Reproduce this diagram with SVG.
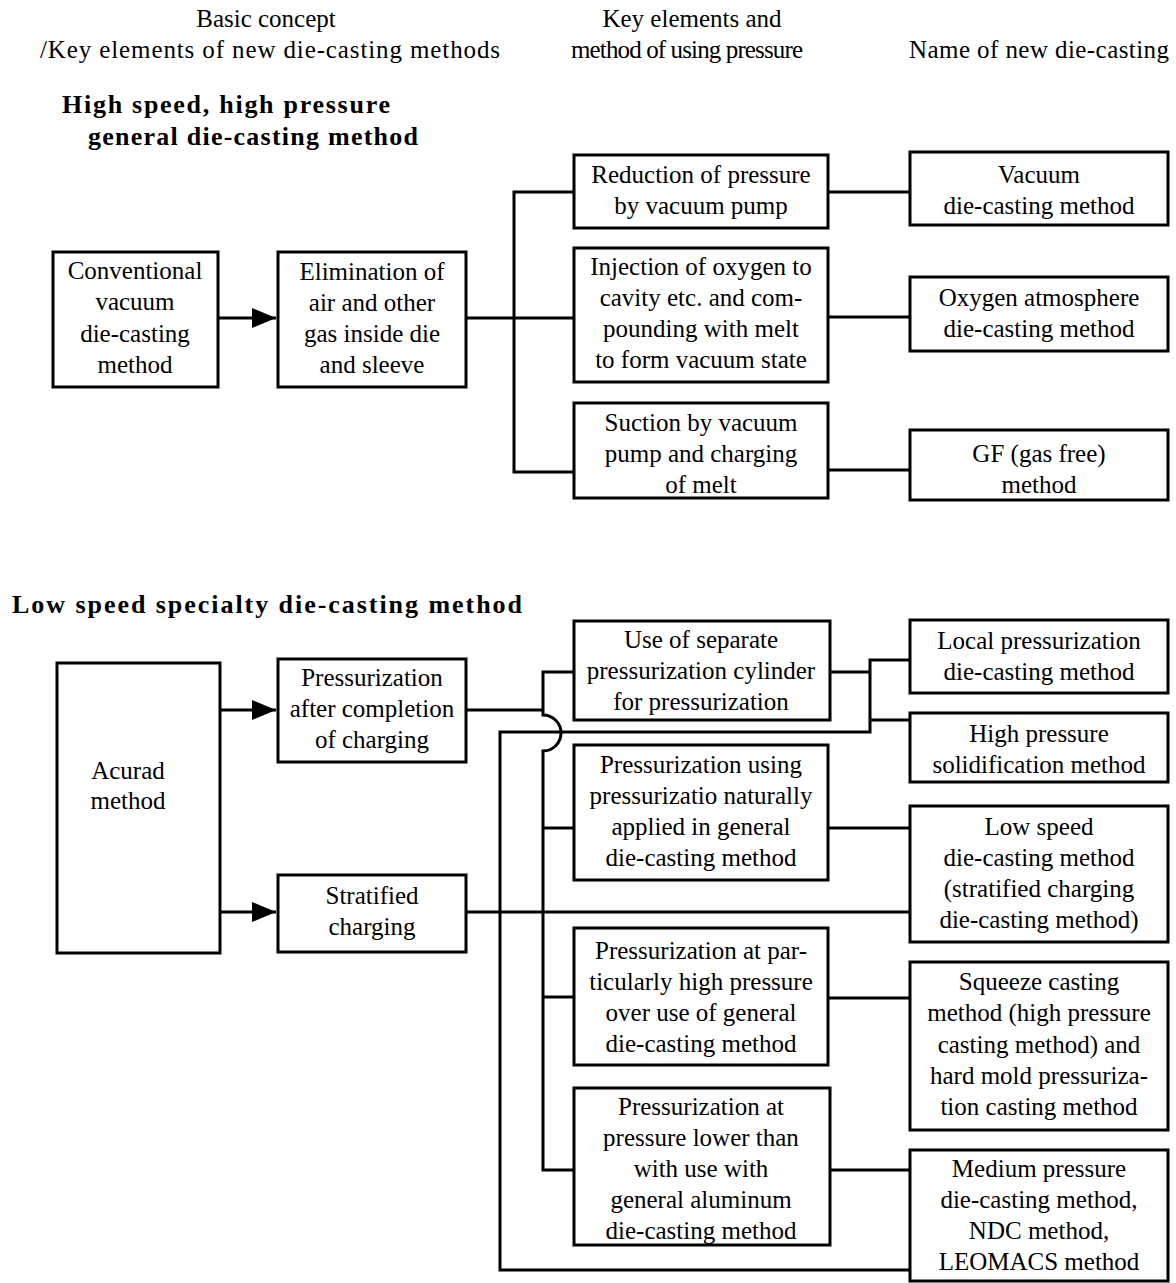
<svg xmlns="http://www.w3.org/2000/svg" width="1176" height="1283" viewBox="0 0 1176 1283">
<style>
.bx{fill:#fff;stroke:#000;stroke-width:3}
.t{font-family:"Liberation Serif","Times New Roman",serif;font-size:25px;fill:#000;text-anchor:middle}
.h{font-family:"Liberation Serif","Times New Roman",serif;font-size:26px;font-weight:bold;fill:#000}
.w{fill:none;stroke:#000;stroke-width:3}
</style>
<defs>
<marker id="ar" markerWidth="26" markerHeight="22" refX="24" refY="11" orient="auto" markerUnits="userSpaceOnUse">
<path d="M0,1 L24,11 L0,21 Z" fill="#000"/>
</marker>
</defs>
<rect width="1176" height="1283" fill="#fff"/>

<g id="headers">
<text class="t" x="266" y="27">Basic concept</text>
<text class="t" x="270" y="58" textLength="460" lengthAdjust="spacing">/Key elements of new die-casting methods</text>
<text class="t" x="692" y="27">Key elements and</text>
<text class="t" x="687" y="58" textLength="232" lengthAdjust="spacing">method of using pressure</text>
<text class="t" x="1039" y="58" textLength="260" lengthAdjust="spacing">Name of new die-casting</text>
<text class="h" x="62" y="113" textLength="328" lengthAdjust="spacing">High speed, high pressure</text>
<text class="h" x="88" y="145" textLength="330" lengthAdjust="spacing">general die-casting method</text>
<text class="h" x="12" y="613" textLength="510" lengthAdjust="spacing">Low speed specialty die-casting method</text>
</g>

<g id="connectors">
<path class="w" d="M218,318 H276" marker-end="url(#ar)"/>
<path class="w" d="M466,318 H574"/>
<path class="w" d="M574,192 H514 V472 H574"/>
<path class="w" d="M828,192 H910"/>
<path class="w" d="M828,317 H910"/>
<path class="w" d="M828,470 H910"/>
<path class="w" d="M220,710 H276" marker-end="url(#ar)"/>
<path class="w" d="M220,912 H276" marker-end="url(#ar)"/>
<path class="w" d="M466,710 H543"/>
<path class="w" d="M574,672 H543 V715 A18,18 0 0 1 543,751 V1170 H574"/>
<path class="w" d="M543,828 H574"/>
<path class="w" d="M543,997 H574"/>
<path class="w" d="M466,912 H910"/>
<path class="w" d="M828,672 H870"/>
<path class="w" d="M910,660 H870 V732 H500 V1270 H910"/>
<path class="w" d="M870,720 H910"/>
<path class="w" d="M828,828 H910"/>
<path class="w" d="M828,998 H910"/>
<path class="w" d="M828,1170 H910"/>
</g>

<g id="n-conventional">
<rect class="bx" x="53" y="252" width="165" height="135"/>
<text class="t" x="135" y="279">Conventional</text>
<text class="t" x="135" y="310">vacuum</text>
<text class="t" x="135" y="342">die-casting</text>
<text class="t" x="135" y="373">method</text>
</g>
<g id="n-elimination">
<rect class="bx" x="278" y="252" width="188" height="135"/>
<text class="t" x="372" y="280">Elimination of</text>
<text class="t" x="372" y="311">air and other</text>
<text class="t" x="372" y="342">gas inside die</text>
<text class="t" x="372" y="373">and sleeve</text>
</g>
<g id="n-reduction">
<rect class="bx" x="574" y="155" width="254" height="73"/>
<text class="t" x="701" y="183">Reduction of pressure</text>
<text class="t" x="701" y="214">by vacuum pump</text>
</g>
<g id="n-injection">
<rect class="bx" x="574" y="248" width="254" height="134"/>
<text class="t" x="701" y="275">Injection of oxygen to</text>
<text class="t" x="701" y="306">cavity etc. and com-</text>
<text class="t" x="701" y="337">pounding with melt</text>
<text class="t" x="701" y="368">to form vacuum state</text>
</g>
<g id="n-suction">
<rect class="bx" x="574" y="403" width="254" height="95"/>
<text class="t" x="701" y="431">Suction by vacuum</text>
<text class="t" x="701" y="462">pump and charging</text>
<text class="t" x="701" y="493">of melt</text>
</g>
<g id="n-vacuum">
<rect class="bx" x="910" y="152" width="258" height="73"/>
<text class="t" x="1039" y="183">Vacuum</text>
<text class="t" x="1039" y="214">die-casting method</text>
</g>
<g id="n-oxygen">
<rect class="bx" x="910" y="277" width="258" height="74"/>
<text class="t" x="1039" y="306">Oxygen atmosphere</text>
<text class="t" x="1039" y="337">die-casting method</text>
</g>
<g id="n-gf">
<rect class="bx" x="910" y="430" width="258" height="70"/>
<text class="t" x="1039" y="462">GF (gas free)</text>
<text class="t" x="1039" y="493">method</text>
</g>

<g id="n-acurad">
<rect class="bx" x="57" y="663" width="163" height="290"/>
<text class="t" x="128" y="779">Acurad</text>
<text class="t" x="128" y="809">method</text>
</g>
<g id="n-after">
<rect class="bx" x="278" y="659" width="188" height="103"/>
<text class="t" x="372" y="686">Pressurization</text>
<text class="t" x="372" y="717">after completion</text>
<text class="t" x="372" y="748">of charging</text>
</g>
<g id="n-stratified">
<rect class="bx" x="278" y="875" width="188" height="77"/>
<text class="t" x="372" y="904">Stratified</text>
<text class="t" x="372" y="935">charging</text>
</g>
<g id="n-separate">
<rect class="bx" x="574" y="621" width="256" height="99"/>
<text class="t" x="701" y="648">Use of separate</text>
<text class="t" x="701" y="679">pressurization cylinder</text>
<text class="t" x="701" y="710">for pressurization</text>
</g>
<g id="n-using">
<rect class="bx" x="574" y="745" width="254" height="135"/>
<text class="t" x="701" y="773">Pressurization using</text>
<text class="t" x="701" y="804">pressurizatio naturally</text>
<text class="t" x="701" y="835">applied in general</text>
<text class="t" x="701" y="866">die-casting method</text>
</g>
<g id="n-particularly">
<rect class="bx" x="574" y="928" width="254" height="137"/>
<text class="t" x="701" y="959">Pressurization at par-</text>
<text class="t" x="701" y="990">ticularly high pressure</text>
<text class="t" x="701" y="1021">over use of general</text>
<text class="t" x="701" y="1052">die-casting method</text>
</g>
<g id="n-lower">
<rect class="bx" x="574" y="1088" width="256" height="157"/>
<text class="t" x="701" y="1115">Pressurization at</text>
<text class="t" x="701" y="1146">pressure lower than</text>
<text class="t" x="701" y="1177">with use with</text>
<text class="t" x="701" y="1208">general aluminum</text>
<text class="t" x="701" y="1239">die-casting method</text>
</g>
<g id="n-local">
<rect class="bx" x="910" y="620" width="258" height="73"/>
<text class="t" x="1039" y="649">Local pressurization</text>
<text class="t" x="1039" y="680">die-casting method</text>
</g>
<g id="n-highpressure">
<rect class="bx" x="910" y="713" width="258" height="69"/>
<text class="t" x="1039" y="742">High pressure</text>
<text class="t" x="1039" y="773">solidification method</text>
</g>
<g id="n-lowspeed">
<rect class="bx" x="910" y="806" width="258" height="136"/>
<text class="t" x="1039" y="835">Low speed</text>
<text class="t" x="1039" y="866">die-casting method</text>
<text class="t" x="1039" y="897">(stratified charging</text>
<text class="t" x="1039" y="928">die-casting method)</text>
</g>
<g id="n-squeeze">
<rect class="bx" x="910" y="962" width="258" height="168"/>
<text class="t" x="1039" y="990">Squeeze casting</text>
<text class="t" x="1039" y="1021">method (high pressure</text>
<text class="t" x="1039" y="1053">casting method) and</text>
<text class="t" x="1039" y="1084">hard mold pressuriza-</text>
<text class="t" x="1039" y="1115">tion casting method</text>
</g>
<g id="n-medium">
<rect class="bx" x="910" y="1150" width="258" height="131"/>
<text class="t" x="1039" y="1177">Medium pressure</text>
<text class="t" x="1039" y="1208">die-casting method,</text>
<text class="t" x="1039" y="1239">NDC method,</text>
<text class="t" x="1039" y="1270">LEOMACS method</text>
</g>
</svg>
